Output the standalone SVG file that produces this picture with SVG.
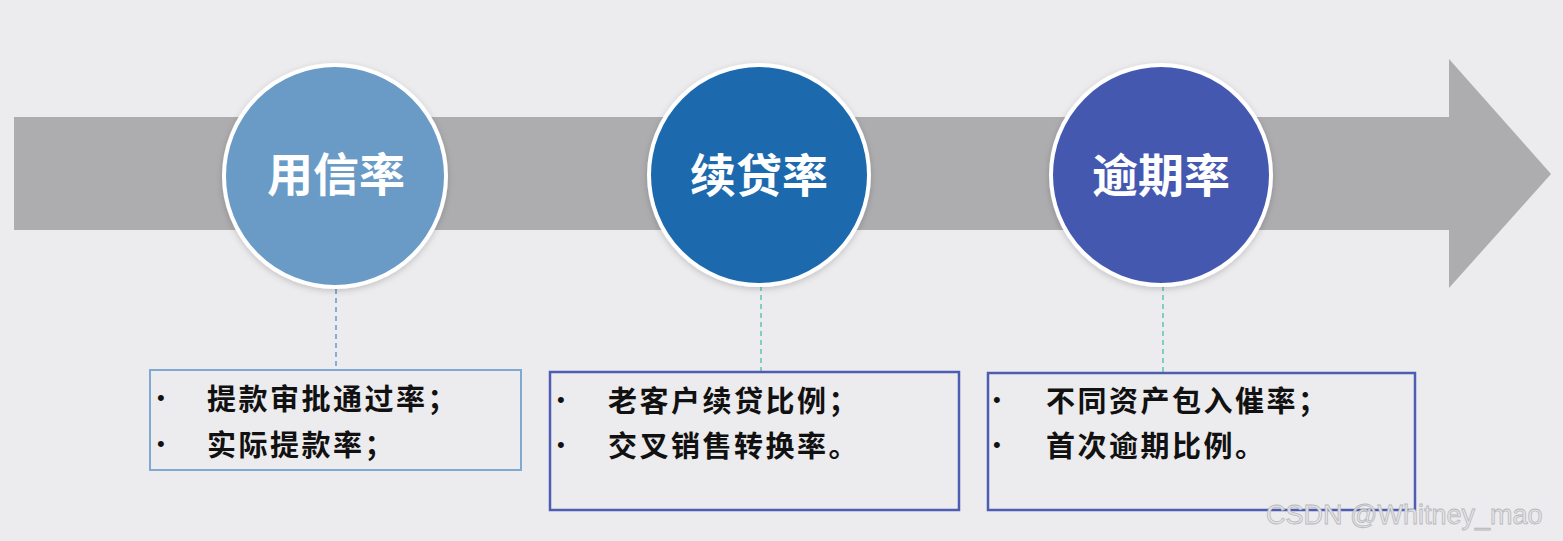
<svg xmlns="http://www.w3.org/2000/svg" width="1563" height="541" viewBox="0 0 1563 541">
<defs>
<style>
.ctext{font-family:"Noto Sans CJK SC","Noto Sans",sans-serif;font-weight:700;font-size:46px;fill:#FFFFFF;text-anchor:middle}
.btext{font-family:"Noto Sans CJK SC","Noto Sans",sans-serif;font-weight:700;font-size:29px;letter-spacing:2.5px;fill:#111111}
.bullet{font-family:"Liberation Sans",sans-serif;font-size:22px;fill:#111111}
.circ{stroke:#FFFFFF;stroke-width:4}
.dash{fill:none;stroke-width:1.5;stroke-dasharray:5 4}
.wm{font-family:"Liberation Sans",sans-serif;font-size:27px;fill:#E6E6E8;stroke:#B8B8BC;stroke-width:0.8}
</style>
<filter id="sh" x="-20%" y="-20%" width="140%" height="140%">
<feDropShadow dx="0" dy="2" stdDeviation="3" flood-color="#000000" flood-opacity="0.18"/>
</filter>
</defs>
<rect x="0" y="0" width="1563" height="541" fill="#ECEBED"/>
<g id="arrow">
<polygon points="14,117 1449,117 1449,59 1551,174 1449,288 1449,230 14,230" fill="#ADACAE"/>
</g>
<g id="connectors">
<line class="dash" x1="336" y1="289" x2="336" y2="369" stroke="#5B9BD5"/>
<line class="dash" x1="761" y1="286" x2="761" y2="371" stroke="#5CC8B4"/>
<line class="dash" x1="1163" y1="286" x2="1163" y2="372" stroke="#5CC8B4"/>
</g>
<g id="node-yongxin">
<circle class="circ" cx="335" cy="176" r="111" fill="#6A9BC7" filter="url(#sh)"/>
<text class="ctext" x="336" y="191">用信率</text>
</g>
<g id="node-xudai">
<circle class="circ" cx="759" cy="175" r="110" fill="#1A69AE" filter="url(#sh)"/>
<text class="ctext" x="759" y="192">续贷率</text>
</g>
<g id="node-yuqi">
<circle class="circ" cx="1161" cy="175" r="110" fill="#4459B0" filter="url(#sh)"/>
<text class="ctext" x="1161" y="192">逾期率</text>
</g>
<g id="box-yongxin">
<rect x="150" y="370" width="371" height="100" fill="none" stroke="#7FA8D2" stroke-width="2"/>
<text class="bullet" x="157" y="405">•</text>
<text class="btext" x="207" y="410">提款审批通过率；</text>
<text class="bullet" x="157" y="451">•</text>
<text class="btext" x="207" y="456">实际提款率；</text>
</g>
<g id="box-xudai">
<rect x="550" y="372" width="409" height="138" fill="none" stroke="#4C5DB3" stroke-width="2.5"/>
<text class="bullet" x="557" y="407">•</text>
<text class="btext" x="608" y="412">老客户续贷比例；</text>
<text class="bullet" x="557" y="452">•</text>
<text class="btext" x="608" y="457">交叉销售转换率。</text>
</g>
<g id="box-yuqi">
<rect x="988" y="373" width="427" height="137" fill="none" stroke="#4C5DB3" stroke-width="2.5"/>
<text class="bullet" x="993" y="407">•</text>
<text class="btext" x="1046" y="412">不同资产包入催率；</text>
<text class="bullet" x="993" y="452">•</text>
<text class="btext" x="1046" y="457">首次逾期比例。</text>
</g>
<text class="wm" x="1266" y="524">CSDN @Whitney_mao</text>
</svg>
